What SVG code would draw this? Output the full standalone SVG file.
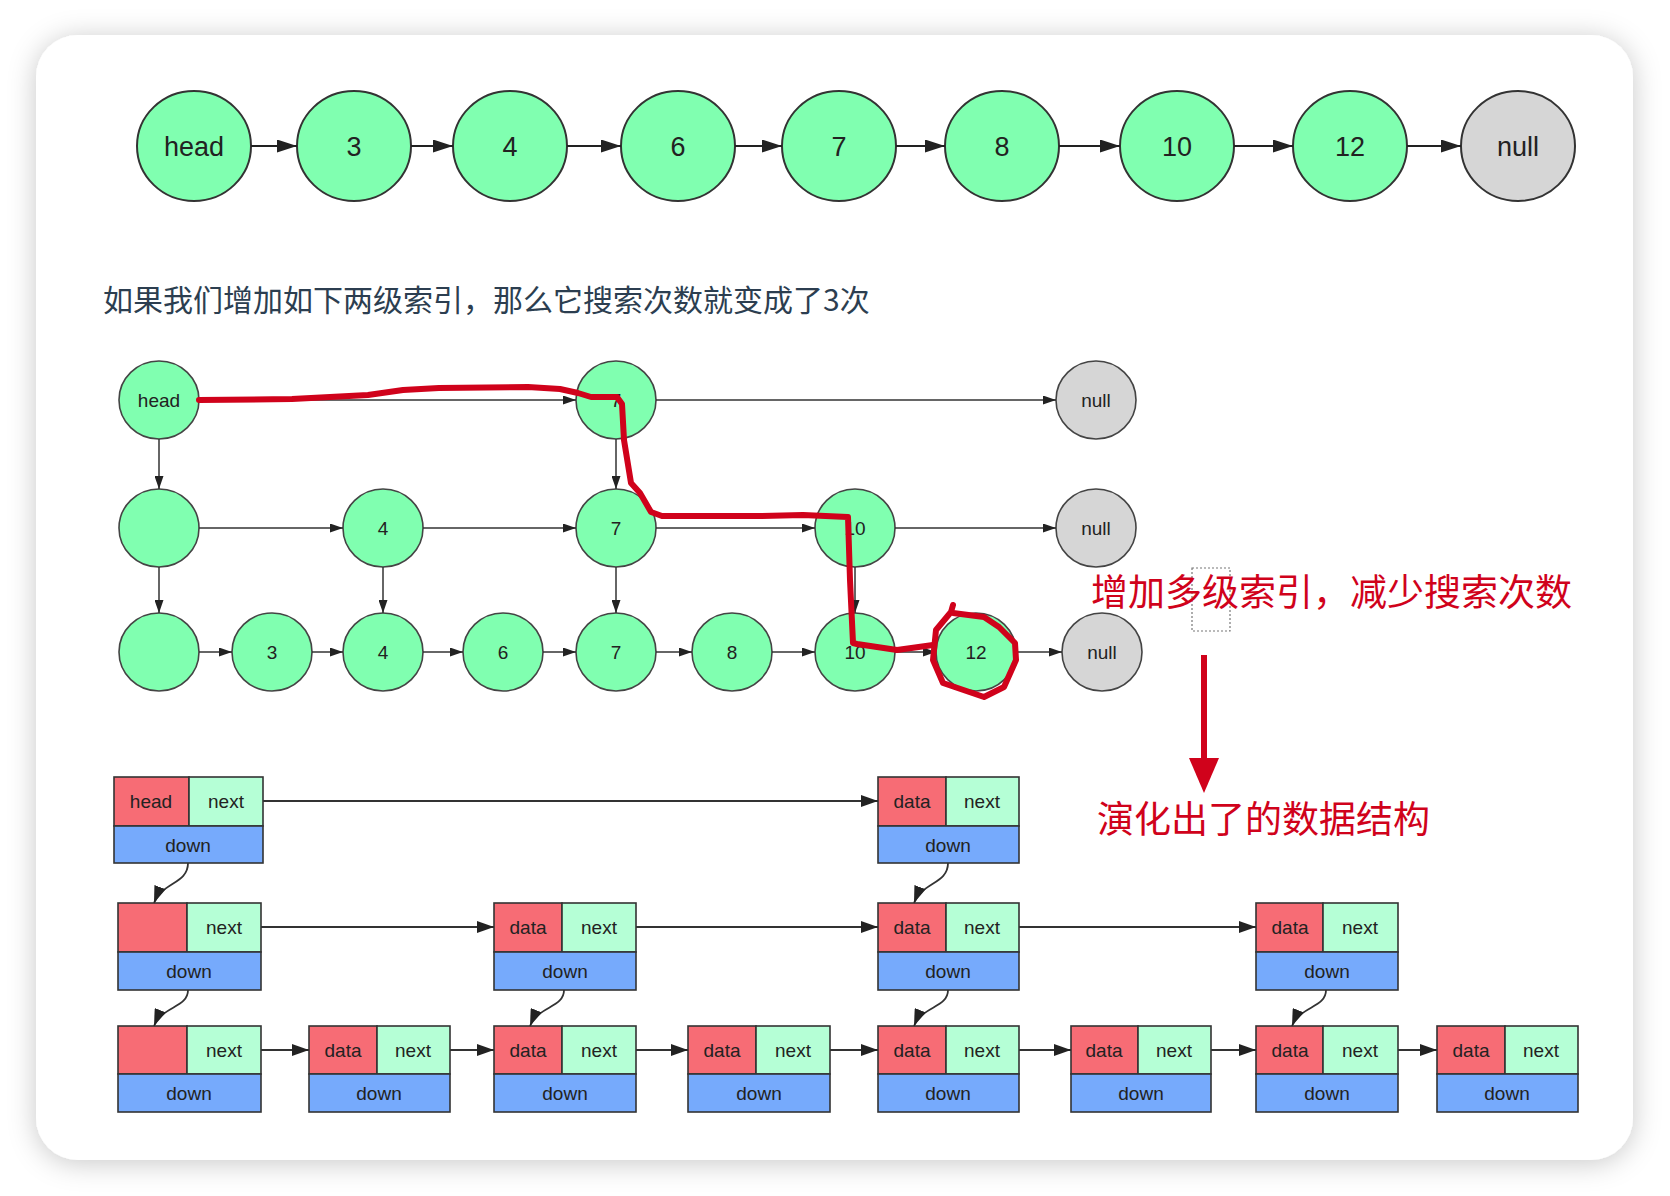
<svg xmlns="http://www.w3.org/2000/svg" width="1670" height="1196" viewBox="0 0 1670 1196">
<defs>
<filter id="sh" x="-10%" y="-10%" width="120%" height="125%"><feDropShadow dx="0" dy="3" stdDeviation="14" flood-color="#000" flood-opacity="0.22"/></filter>
<marker id="aT" markerUnits="userSpaceOnUse" markerWidth="20" markerHeight="13" refX="20" refY="6.5" orient="auto"><path d="M0,0 L20,6.5 L0,13 z" fill="#222"/></marker>
<marker id="aM" markerUnits="userSpaceOnUse" markerWidth="13" markerHeight="9" refX="13" refY="4.5" orient="auto"><path d="M0,0 L13,4.5 L0,9 z" fill="#222"/></marker>
<marker id="aB" markerUnits="userSpaceOnUse" markerWidth="17" markerHeight="12" refX="17" refY="6" orient="auto"><path d="M0,0 L17,6 L0,12 z" fill="#222"/></marker>
</defs>
<style>
.n{fill:#80FFB0;stroke:#333;stroke-width:2}
.g{fill:#D6D6D6;stroke:#333;stroke-width:2}
.nm{fill:#80FFB0;stroke:#444;stroke-width:1.6}
.gm{fill:#D6D6D6;stroke:#444;stroke-width:1.6}
.t{font-family:"Liberation Sans",Arial,sans-serif;fill:#222;text-anchor:middle}
.tt{font-size:27px}
.tm{font-size:19px}
.ct{stroke:#222;stroke-width:2.2;fill:none;marker-end:url(#aT)}
.cm{stroke:#333;stroke-width:1.5;fill:none;marker-end:url(#aM)}
.cb{stroke:#333;stroke-width:1.8;fill:none;marker-end:url(#aB)}
.r{fill:#F76C75;stroke:#333;stroke-width:1.6}
.q{fill:#B5FFD6;stroke:#333;stroke-width:1.6}
.b{fill:#76AAFC;stroke:#333;stroke-width:1.6}
.bt{font-family:"Liberation Sans",Arial,sans-serif;font-size:19px;fill:#222;text-anchor:middle}
.red{fill:none;stroke:#D0021B;stroke-width:6;stroke-linejoin:round;stroke-linecap:round}
.cj{font-family:"Noto Sans CJK SC",sans-serif}
</style>
<rect x="0" y="0" width="1670" height="1196" fill="#fff"/>
<rect x="36" y="35" width="1597" height="1125" rx="42" ry="42" fill="#fff" filter="url(#sh)"/>

<g id="top-row">
<g id="t-head"><ellipse class="n" cx="194" cy="146" rx="57" ry="55"/><text class="t tt" x="194" y="156">head</text></g>
<g id="t-3"><ellipse class="n" cx="354" cy="146" rx="57" ry="55"/><text class="t tt" x="354" y="156">3</text></g>
<g id="t-4"><ellipse class="n" cx="510" cy="146" rx="57" ry="55"/><text class="t tt" x="510" y="156">4</text></g>
<g id="t-6"><ellipse class="n" cx="678" cy="146" rx="57" ry="55"/><text class="t tt" x="678" y="156">6</text></g>
<g id="t-7"><ellipse class="n" cx="839" cy="146" rx="57" ry="55"/><text class="t tt" x="839" y="156">7</text></g>
<g id="t-8"><ellipse class="n" cx="1002" cy="146" rx="57" ry="55"/><text class="t tt" x="1002" y="156">8</text></g>
<g id="t-10"><ellipse class="n" cx="1177" cy="146" rx="57" ry="55"/><text class="t tt" x="1177" y="156">10</text></g>
<g id="t-12"><ellipse class="n" cx="1350" cy="146" rx="57" ry="55"/><text class="t tt" x="1350" y="156">12</text></g>
<g id="t-null"><ellipse class="g" cx="1518" cy="146" rx="57" ry="55"/><text class="t tt" x="1518" y="156">null</text></g>
</g>

<text class="cj" x="103" y="311" font-size="30" fill="#2c3e50">如果我们增加如下两级索引，那么它搜索次数就变成了3次</text>

<g id="mid-nodes">
<g id="m1-head"><ellipse class="nm" cx="159" cy="400" rx="40" ry="39"/><text class="t tm" x="159" y="407">head</text></g>
<g id="m1-7"><ellipse class="nm" cx="616" cy="400" rx="40" ry="39"/><text class="t tm" x="616" y="407">7</text></g>
<g id="m1-null"><ellipse class="gm" cx="1096" cy="400" rx="40" ry="39"/><text class="t tm" x="1096" y="407">null</text></g>
<g id="m2-h"><ellipse class="nm" cx="159" cy="528" rx="40" ry="39"/></g>
<g id="m2-4"><ellipse class="nm" cx="383" cy="528" rx="40" ry="39"/><text class="t tm" x="383" y="535">4</text></g>
<g id="m2-7"><ellipse class="nm" cx="616" cy="528" rx="40" ry="39"/><text class="t tm" x="616" y="535">7</text></g>
<g id="m2-10"><ellipse class="nm" cx="855" cy="528" rx="40" ry="39"/><text class="t tm" x="855" y="535">10</text></g>
<g id="m2-null"><ellipse class="gm" cx="1096" cy="528" rx="40" ry="39"/><text class="t tm" x="1096" y="535">null</text></g>
<g id="m3-h"><ellipse class="nm" cx="159" cy="652" rx="40" ry="39"/></g>
<g id="m3-3"><ellipse class="nm" cx="272" cy="652" rx="40" ry="39"/><text class="t tm" x="272" y="659">3</text></g>
<g id="m3-4"><ellipse class="nm" cx="383" cy="652" rx="40" ry="39"/><text class="t tm" x="383" y="659">4</text></g>
<g id="m3-6"><ellipse class="nm" cx="503" cy="652" rx="40" ry="39"/><text class="t tm" x="503" y="659">6</text></g>
<g id="m3-7"><ellipse class="nm" cx="616" cy="652" rx="40" ry="39"/><text class="t tm" x="616" y="659">7</text></g>
<g id="m3-8"><ellipse class="nm" cx="732" cy="652" rx="40" ry="39"/><text class="t tm" x="732" y="659">8</text></g>
<g id="m3-10"><ellipse class="nm" cx="855" cy="652" rx="40" ry="39"/><text class="t tm" x="855" y="659">10</text></g>
<g id="m3-12"><ellipse class="nm" cx="976" cy="652" rx="40" ry="39"/><text class="t tm" x="976" y="659">12</text></g>
<g id="m3-null"><ellipse class="gm" cx="1102" cy="652" rx="40" ry="39"/><text class="t tm" x="1102" y="659">null</text></g>
</g>

<g id="bottom-nodes">
<g id="b1-head"><rect class="r" x="114" y="777" width="75" height="49"/><rect class="q" x="189" y="777" width="74" height="49"/><rect class="b" x="114" y="826" width="149" height="37"/><text class="bt" x="151" y="808">head</text><text class="bt" x="226" y="808">next</text><text class="bt" x="188" y="852">down</text></g>
<g id="b1-d"><rect class="r" x="878" y="777" width="68" height="49"/><rect class="q" x="946" y="777" width="73" height="49"/><rect class="b" x="878" y="826" width="141" height="37"/><text class="bt" x="912" y="808">data</text><text class="bt" x="982" y="808">next</text><text class="bt" x="948" y="852">down</text></g>

<g id="b2-h"><rect class="r" x="118" y="903" width="69" height="49"/><rect class="q" x="187" y="903" width="74" height="49"/><rect class="b" x="118" y="952" width="143" height="38"/><text class="bt" x="224" y="934">next</text><text class="bt" x="189" y="978">down</text></g>
<g id="b2-d1"><rect class="r" x="494" y="903" width="68" height="49"/><rect class="q" x="562" y="903" width="74" height="49"/><rect class="b" x="494" y="952" width="142" height="38"/><text class="bt" x="528" y="934">data</text><text class="bt" x="599" y="934">next</text><text class="bt" x="565" y="978">down</text></g>
<g id="b2-d2"><rect class="r" x="878" y="903" width="68" height="49"/><rect class="q" x="946" y="903" width="73" height="49"/><rect class="b" x="878" y="952" width="141" height="38"/><text class="bt" x="912" y="934">data</text><text class="bt" x="982" y="934">next</text><text class="bt" x="948" y="978">down</text></g>
<g id="b2-d3"><rect class="r" x="1256" y="903" width="67" height="49"/><rect class="q" x="1323" y="903" width="75" height="49"/><rect class="b" x="1256" y="952" width="142" height="38"/><text class="bt" x="1290" y="934">data</text><text class="bt" x="1360" y="934">next</text><text class="bt" x="1327" y="978">down</text></g>

<g id="b3-h"><rect class="r" x="118" y="1026" width="69" height="48"/><rect class="q" x="187" y="1026" width="74" height="48"/><rect class="b" x="118" y="1074" width="143" height="38"/><text class="bt" x="224" y="1057">next</text><text class="bt" x="189" y="1100">down</text></g>
<g id="b3-d1"><rect class="r" x="309" y="1026" width="68" height="48"/><rect class="q" x="377" y="1026" width="73" height="48"/><rect class="b" x="309" y="1074" width="141" height="38"/><text class="bt" x="343" y="1057">data</text><text class="bt" x="413" y="1057">next</text><text class="bt" x="379" y="1100">down</text></g>
<g id="b3-d2"><rect class="r" x="494" y="1026" width="68" height="48"/><rect class="q" x="562" y="1026" width="74" height="48"/><rect class="b" x="494" y="1074" width="142" height="38"/><text class="bt" x="528" y="1057">data</text><text class="bt" x="599" y="1057">next</text><text class="bt" x="565" y="1100">down</text></g>
<g id="b3-d3"><rect class="r" x="688" y="1026" width="68" height="48"/><rect class="q" x="756" y="1026" width="74" height="48"/><rect class="b" x="688" y="1074" width="142" height="38"/><text class="bt" x="722" y="1057">data</text><text class="bt" x="793" y="1057">next</text><text class="bt" x="759" y="1100">down</text></g>
<g id="b3-d4"><rect class="r" x="878" y="1026" width="68" height="48"/><rect class="q" x="946" y="1026" width="73" height="48"/><rect class="b" x="878" y="1074" width="141" height="38"/><text class="bt" x="912" y="1057">data</text><text class="bt" x="982" y="1057">next</text><text class="bt" x="948" y="1100">down</text></g>
<g id="b3-d5"><rect class="r" x="1071" y="1026" width="67" height="48"/><rect class="q" x="1138" y="1026" width="73" height="48"/><rect class="b" x="1071" y="1074" width="140" height="38"/><text class="bt" x="1104" y="1057">data</text><text class="bt" x="1174" y="1057">next</text><text class="bt" x="1141" y="1100">down</text></g>
<g id="b3-d6"><rect class="r" x="1256" y="1026" width="67" height="48"/><rect class="q" x="1323" y="1026" width="75" height="48"/><rect class="b" x="1256" y="1074" width="142" height="38"/><text class="bt" x="1290" y="1057">data</text><text class="bt" x="1360" y="1057">next</text><text class="bt" x="1327" y="1100">down</text></g>
<g id="b3-d7"><rect class="r" x="1437" y="1026" width="68" height="48"/><rect class="q" x="1505" y="1026" width="73" height="48"/><rect class="b" x="1437" y="1074" width="141" height="38"/><text class="bt" x="1471" y="1057">data</text><text class="bt" x="1541" y="1057">next</text><text class="bt" x="1507" y="1100">down</text></g>
</g>

<g id="connectors">
<line class="ct" x1="251" y1="146" x2="297" y2="146"/>
<line class="ct" x1="411" y1="146" x2="453" y2="146"/>
<line class="ct" x1="567" y1="146" x2="621" y2="146"/>
<line class="ct" x1="735" y1="146" x2="782" y2="146"/>
<line class="ct" x1="896" y1="146" x2="945" y2="146"/>
<line class="ct" x1="1059" y1="146" x2="1120" y2="146"/>
<line class="ct" x1="1234" y1="146" x2="1293" y2="146"/>
<line class="ct" x1="1407" y1="146" x2="1461" y2="146"/>

<line class="cm" x1="199" y1="400" x2="576" y2="400"/>
<line class="cm" x1="656" y1="400" x2="1056" y2="400"/>
<line class="cm" x1="199" y1="528" x2="343" y2="528"/>
<line class="cm" x1="423" y1="528" x2="576" y2="528"/>
<line class="cm" x1="656" y1="528" x2="815" y2="528"/>
<line class="cm" x1="895" y1="528" x2="1056" y2="528"/>
<line class="cm" x1="199" y1="652" x2="232" y2="652"/>
<line class="cm" x1="312" y1="652" x2="343" y2="652"/>
<line class="cm" x1="423" y1="652" x2="463" y2="652"/>
<line class="cm" x1="543" y1="652" x2="576" y2="652"/>
<line class="cm" x1="656" y1="652" x2="692" y2="652"/>
<line class="cm" x1="772" y1="652" x2="815" y2="652"/>
<line class="cm" x1="895" y1="652" x2="936" y2="652"/>
<line class="cm" x1="1016" y1="652" x2="1062" y2="652"/>
<line class="cm" x1="159" y1="439" x2="159" y2="489"/>
<line class="cm" x1="159" y1="567" x2="159" y2="613"/>
<line class="cm" x1="383" y1="567" x2="383" y2="613"/>
<line class="cm" x1="616" y1="439" x2="616" y2="489"/>
<line class="cm" x1="616" y1="567" x2="616" y2="613"/>
<line class="cm" x1="855" y1="567" x2="855" y2="613"/>

<line class="cb" x1="263" y1="801" x2="878" y2="801"/>
<line class="cb" x1="261" y1="927" x2="494" y2="927"/>
<line class="cb" x1="636" y1="927" x2="878" y2="927"/>
<line class="cb" x1="1019" y1="927" x2="1256" y2="927"/>
<line class="cb" x1="261" y1="1050" x2="309" y2="1050"/>
<line class="cb" x1="450" y1="1050" x2="494" y2="1050"/>
<line class="cb" x1="636" y1="1050" x2="688" y2="1050"/>
<line class="cb" x1="830" y1="1050" x2="878" y2="1050"/>
<line class="cb" x1="1019" y1="1050" x2="1071" y2="1050"/>
<line class="cb" x1="1211" y1="1050" x2="1256" y2="1050"/>
<line class="cb" x1="1398" y1="1050" x2="1437" y2="1050"/>
<path class="cb" d="M188,863 C188,884 162,882 154,903"/>
<path class="cb" d="M948,863 C948,884 922,882 914,903"/>
<path class="cb" d="M188,990 C188,1008 162,1006 154,1026"/>
<path class="cb" d="M564,990 C564,1008 538,1006 530,1026"/>
<path class="cb" d="M948,990 C948,1008 922,1006 914,1026"/>
<path class="cb" d="M1326,990 C1326,1008 1300,1006 1292,1026"/>
</g>

<g id="annotations">
<polyline class="red" points="199,400 292,399 368,395 403,390 439,388 528,387 560,389 578,393 591,397 617,397 622,404 624,440 631,483 640,493 651,512 662,516 760,516 803,515 848,517 850,580 853,643 857,644 897,650 933,645"/>
<polyline class="red" points="953,605 951,612 936,630 933,660 943,683 984,697 1004,687 1016,660 1015,643 999,627 984,617 953,613"/>
<rect x="1192" y="568" width="38" height="63" fill="none" stroke="#777" stroke-width="1.2" stroke-dasharray="2,2"/>
<text class="cj" x="1091" y="606" font-size="37" fill="#D0021B">增加多级索引，减少搜索次数</text>
<line x1="1204" y1="655" x2="1204" y2="760" stroke="#D0021B" stroke-width="6"/>
<path d="M1189,758 L1219,758 L1204,793 z" fill="#D0021B"/>
<text class="cj" x="1097" y="833" font-size="37" fill="#D0021B">演化出了的数据结构</text>
</g>
</svg>
